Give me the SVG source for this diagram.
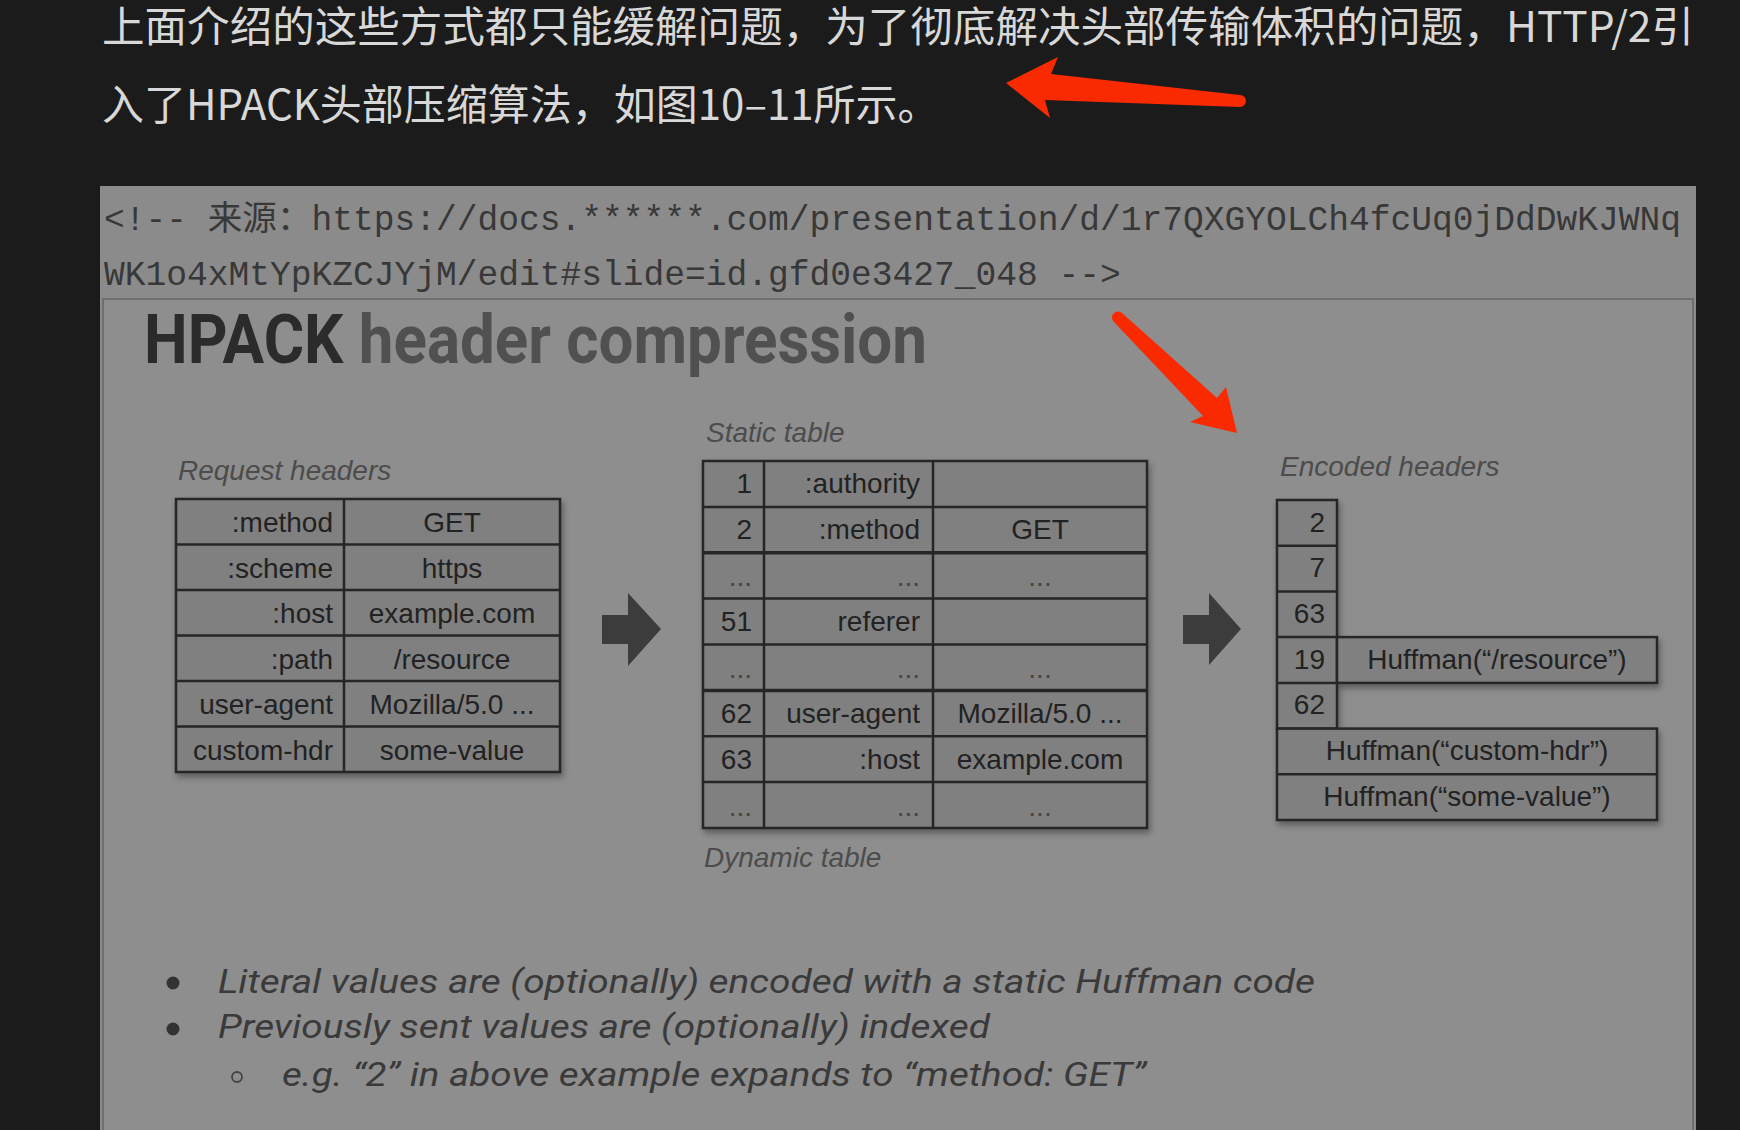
<svg xmlns="http://www.w3.org/2000/svg" width="1740" height="1130" viewBox="0 0 1740 1130">
<defs>
<style>
.cn{font-family:"Noto Sans CJK SC","Noto Sans",sans-serif;font-size:42px;fill:#d8d8d8}
.mono{font-family:"Liberation Mono","Noto Sans CJK SC",monospace;font-size:34.6px;fill:#383838}
.lbl{font-family:"Liberation Sans",Arial,sans-serif;font-style:italic;font-size:28px;fill:#4c4c4c}
.cell{fill:#808080;stroke:#262626;stroke-width:2.5}
.t{font-family:"Liberation Sans",Arial,sans-serif;font-size:28px;fill:#222}
.r{text-anchor:end}
.c{text-anchor:middle}
.dots{fill:#464646}
.bul{font-family:Roboto,"Liberation Sans",sans-serif;font-style:italic;font-size:34px;fill:#3a3a3a}
.red{fill:#fa2a00}
.blk{fill:#3c3c3c}
</style>
<filter id="sh" x="-5%" y="-5%" width="115%" height="115%">
<feDropShadow dx="2" dy="4" stdDeviation="3" flood-color="#000" flood-opacity="0.35"/>
</filter>
</defs>
<rect x="0" y="0" width="1740" height="1130" fill="#1b1b1b"/>

<g id="intro-text">
<text class="cn" x="102" y="42" textLength="1592" lengthAdjust="spacingAndGlyphs">上面介绍的这些方式都只能缓解问题，为了彻底解决头部传输体积的问题，HTTP/2引</text>
<text class="cn" x="102" y="120">入了HPACK头部压缩算法，如图10–11所示。</text>
</g>

<g id="panel">
<rect x="100" y="186" width="1596" height="944" fill="#8b8b8b"/>
<rect x="103" y="299" width="1590" height="840" fill="#8e8e8e" stroke="#6f6f6f" stroke-width="2"/>
</g>

<g id="source-comment">
<text class="mono" x="104" y="230">&lt;!-- 来源：https://docs.******.com/presentation/d/1r7QXGYOLCh4fcUq0jDdDwKJWNq</text>
<text class="mono" x="104" y="285">WK1o4xMtYpKZCJYjM/edit#slide=id.gfd0e3427_048 --&gt;</text>
</g>

<g id="title">
<text x="144" y="363" font-family="Roboto,'Liberation Sans',sans-serif" font-weight="700" font-size="68" textLength="783" lengthAdjust="spacingAndGlyphs"><tspan fill="#2b2b2b">HPACK</tspan><tspan fill="#505050"> header compression</tspan></text>
</g>

<g id="request-headers">
<text class="lbl" x="178" y="480">Request headers</text>
<g filter="url(#sh)">
<rect class="cell" x="176" y="499" width="384" height="273"/>
</g>
<g fill="none" stroke="#262626" stroke-width="2.5">
<line x1="344" y1="499" x2="344" y2="772"/>
<line x1="176" y1="544.5" x2="560" y2="544.5"/>
<line x1="176" y1="590" x2="560" y2="590"/>
<line x1="176" y1="635.5" x2="560" y2="635.5"/>
<line x1="176" y1="681" x2="560" y2="681"/>
<line x1="176" y1="726.5" x2="560" y2="726.5"/>
</g>
<text class="t r" x="333" y="532">:method</text>
<text class="t c" x="452" y="532">GET</text>
<text class="t r" x="333" y="577.5">:scheme</text>
<text class="t c" x="452" y="577.5">https</text>
<text class="t r" x="333" y="623">:host</text>
<text class="t c" x="452" y="623">example.com</text>
<text class="t r" x="333" y="668.5">:path</text>
<text class="t c" x="452" y="668.5">/resource</text>
<text class="t r" x="333" y="714">user-agent</text>
<text class="t c" x="452" y="714">Mozilla/5.0 ...</text>
<text class="t r" x="333" y="759.5">custom-hdr</text>
<text class="t c" x="452" y="759.5">some-value</text>
</g>

<g id="static-dynamic-table">
<text class="lbl" x="706" y="442">Static table</text>
<g filter="url(#sh)">
<rect class="cell" x="703" y="461" width="444" height="367"/>
</g>
<g fill="none" stroke="#262626" stroke-width="2.5">
<line x1="764" y1="461" x2="764" y2="828"/>
<line x1="933" y1="461" x2="933" y2="828"/>
<line x1="703" y1="506.9" x2="1147" y2="506.9"/>
<line x1="703" y1="552.75" x2="1147" y2="552.75" stroke-width="3.5"/>
<line x1="703" y1="598.6" x2="1147" y2="598.6"/>
<line x1="703" y1="644.5" x2="1147" y2="644.5"/>
<line x1="703" y1="690.4" x2="1147" y2="690.4" stroke-width="3.5"/>
<line x1="703" y1="736.25" x2="1147" y2="736.25"/>
<line x1="703" y1="782.1" x2="1147" y2="782.1"/>
</g>
<text class="t r" x="752" y="493">1</text>
<text class="t r" x="920" y="493">:authority</text>
<text class="t r" x="752" y="539">2</text>
<text class="t r" x="920" y="539">:method</text>
<text class="t c" x="1040" y="539">GET</text>
<text class="t r dots" x="752" y="586">...</text>
<text class="t r dots" x="920" y="586">...</text>
<text class="t c dots" x="1040" y="586">...</text>
<text class="t r" x="752" y="630.5">51</text>
<text class="t r" x="920" y="630.5">referer</text>
<text class="t r dots" x="752" y="678">...</text>
<text class="t r dots" x="920" y="678">...</text>
<text class="t c dots" x="1040" y="678">...</text>
<text class="t r" x="752" y="722.5">62</text>
<text class="t r" x="920" y="722.5">user-agent</text>
<text class="t c" x="1040" y="722.5">Mozilla/5.0 ...</text>
<text class="t r" x="752" y="768.5">63</text>
<text class="t r" x="920" y="768.5">:host</text>
<text class="t c" x="1040" y="768.5">example.com</text>
<text class="t r dots" x="752" y="816">...</text>
<text class="t r dots" x="920" y="816">...</text>
<text class="t c dots" x="1040" y="816">...</text>
<text class="lbl" x="704" y="867">Dynamic table</text>
</g>

<g id="encoded-headers">
<text class="lbl" x="1280" y="476">Encoded headers</text>
<g filter="url(#sh)">
<rect class="cell" x="1277" y="500" width="60" height="228.6"/>
<rect class="cell" x="1337" y="637.1" width="320" height="45.8"/>
<rect class="cell" x="1277" y="728.6" width="380" height="91.4"/>
</g>
<g fill="none" stroke="#262626" stroke-width="2.5">
<line x1="1277" y1="545.7" x2="1337" y2="545.7"/>
<line x1="1277" y1="591.4" x2="1337" y2="591.4"/>
<line x1="1277" y1="637.1" x2="1337" y2="637.1"/>
<line x1="1277" y1="682.9" x2="1337" y2="682.9"/>
<line x1="1277" y1="774.3" x2="1657" y2="774.3"/>
</g>
<text class="t r" x="1325" y="532">2</text>
<text class="t r" x="1325" y="577">7</text>
<text class="t r" x="1325" y="623">63</text>
<text class="t r" x="1325" y="668.5">19</text>
<text class="t c" x="1497" y="668.5">Huffman(“/resource”)</text>
<text class="t r" x="1325" y="714">62</text>
<text class="t c" x="1467" y="760">Huffman(“custom-hdr”)</text>
<text class="t c" x="1467" y="806">Huffman(“some-value”)</text>
</g>

<g id="connectors">
<path class="blk" d="M602 615 H628 V593 L661 629 L628 666 V644 H602 Z"/>
<path class="blk" d="M1183 615 H1209 V593 L1241 629 L1209 665 V644 H1183 Z"/>
</g>

<g id="bullets">
<circle cx="173" cy="983" r="6.5" fill="#333"/>
<text class="bul" x="218" y="993" textLength="1097" lengthAdjust="spacingAndGlyphs">Literal values are (optionally) encoded with a static Huffman code</text>
<circle cx="173" cy="1029" r="6.5" fill="#333"/>
<text class="bul" x="218" y="1038" textLength="772" lengthAdjust="spacingAndGlyphs">Previously sent values are (optionally) indexed</text>
<circle cx="237" cy="1077" r="5" fill="none" stroke="#444" stroke-width="1.8"/>
<text class="bul" x="282" y="1086" textLength="864" lengthAdjust="spacingAndGlyphs">e.g. “2” in above example expands to “method: GET”</text>
</g>

<g id="annotations">
<path class="red" d="M1006 83 L1058 57 L1051 74 L1240 95 A6 6 0 0 1 1240 107 L1045 100 L1050 118 Z"/>
<path class="red" d="M1122 313 L1217 398 L1226 387 L1237 433 L1190 422 L1203 416 L1114 322 A5.5 5.5 0 0 1 1122 313 Z"/>
</g>
</svg>
